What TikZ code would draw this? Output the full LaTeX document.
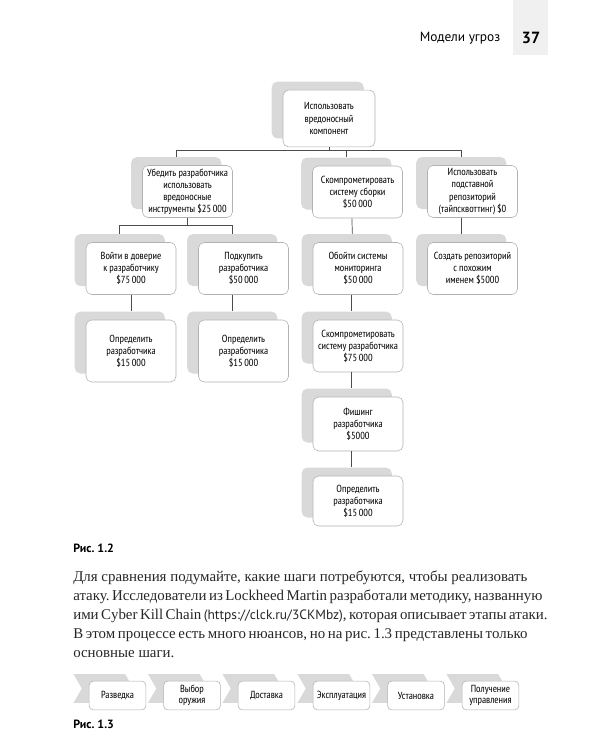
\documentclass[tikz,border=0pt]{standalone}
\usepackage{fontspec}
\setmainfont{Liberation Serif}
\newfontfamily\ptsans{PT Sans}
\newfontfamily\narrow{PT Sans Narrow}
\usetikzlibrary{shadows,shapes.symbols}
\frenchspacing

\tikzset{
  box/.style={draw=gray!60, fill=white, rounded corners=4pt, align=center,
    minimum width=2.25cm, minimum height=1.3cm, inner sep=1pt,
    font=\narrow\fontsize{7.3}{8.6}\selectfont,
    general shadow={fill=gray!30, shadow xshift=-8pt, shadow yshift=6pt}},
  link/.style={draw=gray!60!black, line width=0.5pt},
  chev/.style={signal, signal from=west, signal to=east, signal pointer angle=120,
    fill=gray!30, minimum width=1.5cm, minimum height=0.72cm, inner sep=0pt},
  stage/.style={draw=gray!60, fill=white, rounded corners=3pt, align=center,
    minimum width=1.42cm, minimum height=0.72cm, inner sep=1pt,
    font=\narrow\fontsize{7.3}{8}\selectfont},
  para/.style={anchor=base west, inner sep=0pt, text=black!85, font=\fontsize{10.6}{13.5}\selectfont},
  caption/.style={anchor=base west, inner sep=0pt, font=\ptsans\bfseries\fontsize{8.5}{10}\selectfont}
}

\begin{document}
\begin{tikzpicture}[x=0.025cm, y=-0.025cm]
  \useasboundingbox (0,0) rectangle (600,750);

  % Колонтитул
  \fill[gray!12] (513,0) rectangle (548,55);
  \node[font=\ptsans\fontsize{9.5}{11}\selectfont] (head) at (460,38) {Модели угроз};
  \node[font=\ptsans\bfseries\fontsize{11.5}{13}\selectfont] (pnum) at (531,38) {37};

  % Дерево атаки
  \node[box, minimum width=2.3cm, minimum height=1.42cm] (root) at (329,118.5)
    {Использовать\\вредоносный\\компонент};
  \node[box] (a1) at (187.5,191.5) {Убедить разработчика\\использовать\\вредоносные\\инструменты \$25\,000};
  \node[box] (a2) at (357.5,192) {Скомпрометировать\\систему сборки\\\$50\,000};
  \node[box] (a3) at (472.5,191.5) {Использовать\\подставной\\репозиторий\\(тайпсквоттинг) \$0};

  \node[box] (b1) at (131,268.5) {Войти в доверие\\к разработчику\\\$75\,000};
  \node[box] (b2) at (243.5,268.5) {Подкупить\\разработчика\\\$50\,000};
  \node[box] (b3) at (358,268.5) {Обойти системы\\мониторинга\\\$50\,000};
  \node[box] (b4) at (472.5,268.5) {Создать репозиторий\\с похожим\\именем \$5000};

  \node[box, minimum height=1.55cm] (c1) at (131,351) {Определить\\разработчика\\\$15\,000};
  \node[box, minimum height=1.55cm] (c2) at (243.5,351) {Определить\\разработчика\\\$15\,000};
  \node[box] (c3) at (358,346) {Скомпрометировать\\систему разработчика\\\$75\,000};
  \node[box, minimum height=1.35cm] (d3) at (358,424) {Фишинг\\разработчика\\\$5000};
  \node[box, minimum height=1.25cm] (e3) at (358,501) {Определить\\разработчика\\\$15\,000};

  % Связи
  \draw[link] (root.south) -- ++(0,3) -| ([shift={(-8pt,6pt)}]a1.north);
  \draw[link] (root.south) -- ++(0,3) -| ([shift={(-8pt,6pt)}]a2.north);
  \draw[link] (root.south) -- ++(0,3) -| ([shift={(-8pt,6pt)}]a3.north);
  \draw[link] (a1.south) -- ++(0,8) -| ([shift={(-8pt,6pt)}]b1.north);
  \draw[link] (a1.south) -- ++(0,8) -| ([shift={(-8pt,6pt)}]b2.north);
  \draw[link] ([xshift=-4pt]a2.south) -- ([xshift=-4pt,yshift=6pt]b3.north);
  \draw[link] ([xshift=-8pt]a3.south) -- ([xshift=-8pt,yshift=6pt]b4.north);
  \draw[link] (b1.south) -- ([yshift=6pt]c1.north);
  \draw[link] ([xshift=-8pt]b2.south) -- ([xshift=-8pt,yshift=6pt]c2.north);
  \draw[link] ([xshift=-5pt]b3.south) -- ([xshift=-5pt,yshift=6pt]c3.north);
  \draw[link] ([xshift=-5pt]c3.south) -- ([xshift=-5pt,yshift=6pt]d3.north);
  \draw[link] ([xshift=-5pt]d3.south) -- ([xshift=-5pt,yshift=6pt]e3.north);

  \node[caption] (cap1) at (73,552) {Рис. 1.2};

  % Текст
  \node[para] (p1) at (73,581) {\hbox to 323pt{Для сравнения подумайте, какие шаги потребуются, чтобы реализовать}};
  \node[para] (p2) at (73,600) {\hbox to 323pt{атаку. Исследователи из Lockheed Martin разработали методику, названную}};
  \node[para] (p3) at (73,619) {\hbox to 323pt{ими Cyber Kill Chain {\ptsans\fontsize{9.6}{12}\selectfont(https://clck.ru/3CKMbz)}, которая описывает этапы атаки.}};
  \node[para] (p4) at (73,638) {\hbox to 323pt{В этом процессе есть много нюансов, но на рис. 1.3 представлены только}};
  \node[para] (p5) at (73,657) {основные шаги.};

  % Цепочка
  \foreach \x [count=\i] in {117.5,192,266.5,341.5,416,490.5}
    \node[chev] (ch\i) at (\x-14,688.5) {};
  \foreach \x/\t [count=\i] in {117.5/Разведка, 192/Выбор\\оружия, 266.5/Доставка,
      341.5/Эксплуатация, 416/Установка, 490.5/Получение\\управления}
    \node[stage] (st\i) at (\x,695.5) {\t};

  \node[caption] (cap2) at (73,728) {Рис. 1.3};
\end{tikzpicture}
\end{document}
